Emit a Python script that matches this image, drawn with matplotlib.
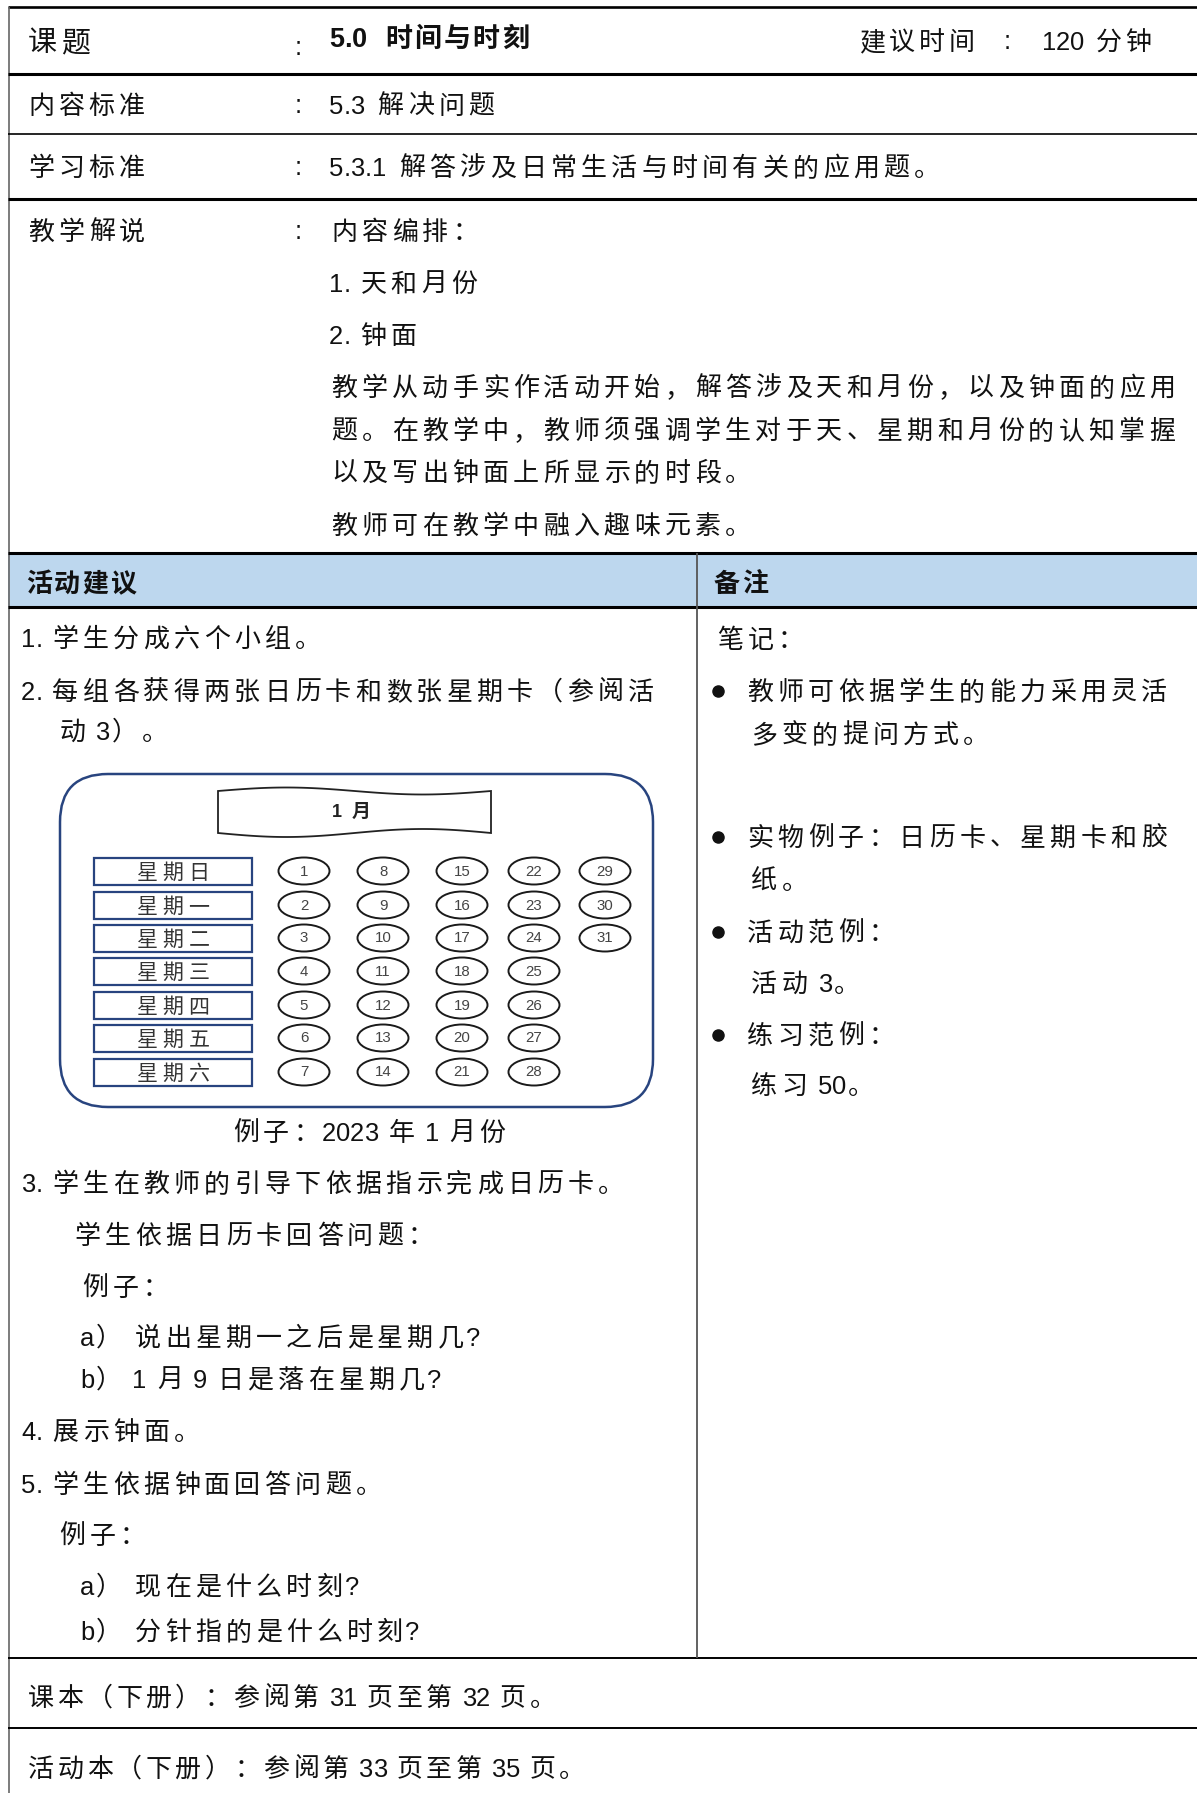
import matplotlib
matplotlib.use("Agg")
import matplotlib.pyplot as plt
import numpy as np
from matplotlib.patches import Rectangle, Ellipse, FancyBboxPatch, Polygon

# ---- 文字内容 ----
field_labels = ["课题", "内容标准", "学习标准", "教学解说"]
field_values = ["5.0  时间与时刻", "5.3 解决问题", "5.3.1 解答涉及日常生活与时间有关的应用题。", "内容编排："]
time_label = "建议时间"
time_value = "120 分钟"
explain_lines = ["1. 天和月份", "2. 钟面",
                 "教学从动手实作活动开始，解答涉及天和月份，以及钟面的应用",
                 "题。在教学中，教师须强调学生对于天、星期和月份的认知掌握",
                 "以及写出钟面上所显示的时段。",
                 "教师可在教学中融入趣味元素。"]
head_left = "活动建议"
head_right = "备注"
left_lines = ["1. 学生分成六个小组。",
              "2. 每组各获得两张日历卡和数张星期卡（参阅活",
              "动 3）。",
              "3. 学生在教师的引导下依据指示完成日历卡。",
              "学生依据日历卡回答问题：",
              "例子：",
              "a） 说出星期一之后是星期几?",
              "b） 1 月 9 日是落在星期几?",
              "4. 展示钟面。",
              "5. 学生依据钟面回答问题。",
              "例子：",
              "a） 现在是什么时刻?",
              "b） 分针指的是什么时刻?"]
caption = "例子：2023 年 1 月份"
notes_title = "笔记："
notes = [["教师可依据学生的能力采用灵活", "多变的提问方式。"],
         ["实物例子：日历卡、星期卡和胶", "纸。"],
         ["活动范例：", "活动 3。"],
         ["练习范例：", "练习 50。"]]
footer_lines = ["课本（下册）：参阅第 31 页至第 32 页。",
                "活动本（下册）：参阅第 33 页至第 35 页。"]

# 日历卡
month_title = "1 月"
weekdays = ["星期日", "星期一", "星期二", "星期三", "星期四", "星期五", "星期六"]
day_columns = [[1, 2, 3, 4, 5, 6, 7],
               [8, 9, 10, 11, 12, 13, 14],
               [15, 16, 17, 18, 19, 20, 21],
               [22, 23, 24, 25, 26, 27, 28],
               [29, 30, 31]]

CJK = ["Noto Sans CJK SC", "DejaVu Sans"]
LAT = ["Liberation Sans", "DejaVu Sans"]
INK = "#111111"
NAVY = "#28447f"

# 半角字符宽度 (em)
LAT_W = {".": 0.278, ":": 0.278, ")": 0.333, "(": 0.333, "?": 0.556}

fig = plt.figure(figsize=(11.97, 17.93), dpi=100)
ax = fig.add_axes([0, 0, 1, 1])
ax.set_xlim(0, 1197)
ax.set_ylim(1793, 0)
ax.axis("off")


def pt(px):
    return px * 0.72


def measure(s, cjk=26, lat=25.5, adv=30.3, space=8):
    w = 0
    for ch in s:
        if ord(ch) > 0x2000:
            w += adv
        elif ch == " ":
            w += space
        else:
            w += LAT_W.get(ch, 0.556) * lat
    return w


def put(x, y, s, cjk=26, lat=25.5, adv=30.3, space=8, bold=False,
        color=INK, ha="left"):
    # 逐字排版, 模仿原文的字距
    if ha == "center":
        x -= measure(s, cjk, lat, adv, space) / 2
    wt = "bold" if bold else "normal"
    base = y + 0.38 * cjk
    for ch in s:
        if ord(ch) > 0x2000:
            ax.text(x + adv / 2, base, ch, ha="center", va="baseline",
                    fontsize=pt(cjk), family=CJK, weight=wt, color=color)
            x += adv
        elif ch == " ":
            x += space
        else:
            ax.text(x, base, ch, ha="left", va="baseline",
                    fontsize=pt(lat), family=LAT, weight=wt, color=color)
            x += LAT_W.get(ch, 0.556) * lat
    return x


# ---- 表格线与底色 ----
ax.add_patch(Rectangle((8, 553), 1189, 54, facecolor="#bdd7ee", edgecolor="none"))
ax.hlines(7, 8, 1197, color="black", lw=1.9)
ax.vlines(8.5, 7, 1793, color="#666666", lw=1.2)
ax.hlines([74, 199, 553, 607], 8, 1197, color="black", lw=2.2)
ax.hlines(134, 8, 1197, color="black", lw=1.2)
ax.hlines([1658, 1728], 8, 1197, color="black", lw=1.4)
ax.vlines(697, 553, 1658, color="#555555", lw=1.3)

# ---- 上半部分 ----
label_y = [40, 104, 166, 230]
for i, lab in enumerate(field_labels):
    if i == 0:
        put(26, label_y[i], lab, cjk=29, adv=33)
        ax.text(295, label_y[i] + 8, ":", fontsize=pt(25.5), family=LAT,
                color=INK, va="center")
        put(329, 37, field_values[i], cjk=27, lat=27, adv=29, space=9, bold=True)
    else:
        put(26, label_y[i], lab)
        ax.text(295, label_y[i] + 2, ":", fontsize=pt(25.5), family=LAT,
                color=INK, va="center")
        put(329, label_y[i], field_values[i], space=11)

put(858, 40, time_label, adv=29.5)
ax.text(1004, 42, ":", fontsize=pt(25.5), family=LAT, color=INK, va="center")
put(1042, 40, time_value, adv=29, space=10)

explain_y = [282, 334, 386, 429, 471, 524]
for yy, line in zip(explain_y, explain_lines):
    put(329, yy, line)

# ---- 表头 ----
put(25, 582, head_left, bold=True, adv=28)
put(713, 582, head_right, bold=True, adv=28)

# ---- 左栏 ----
left_pos = [(21, 637), (21, 690), (57, 730), (21, 1182), (72, 1234), (80, 1286),
            (80, 1336), (80, 1378), (21, 1430), (21, 1483), (57, 1534),
            (80, 1585), (80, 1630)]
for (xx, yy), line in zip(left_pos, left_lines):
    put(xx, yy, line)
put(369, 1131, caption, ha="center")

# ---- 右栏 ----
put(715, 638, notes_title)
note_y = [(690, 733), (836, 879), (931, 982), (1034, 1084)]
for (y1, y2), (l1, l2) in zip(note_y, notes):
    ax.plot(718, y1 + 1, "o", color=INK, markersize=8)
    put(745, y1, l1)
    put(749, y2, l2)

# ---- 页脚 ----
put(26, 1696, footer_lines[0], adv=29.5)
put(26, 1767, footer_lines[1], adv=29.5)

# ---- 日历卡图 ----
ax.add_patch(FancyBboxPatch((60, 774), 593, 333,
                            boxstyle="round,pad=0,rounding_size=48",
                            facecolor="white", edgecolor=NAVY, lw=1.8))

# 波浪形月份标题
xs = np.linspace(218, 491, 80)
t = (xs - 218) / 273
top = 791 - 3.5 * np.sin(2 * np.pi * t)
bottom = 833 + 4 * np.sin(2 * np.pi * t)
pts = np.vstack([np.column_stack([xs, top]), np.column_stack([xs[::-1], bottom[::-1]])])
ax.add_patch(Polygon(pts, closed=True, facecolor="white", edgecolor="#222222", lw=1.3))
put(352, 810, month_title, cjk=19, lat=18, adv=21, space=9, bold=True,
    color="#222222", ha="center")

row_y = [871, 905, 938, 971, 1005, 1038, 1072]
col_x = [304, 383, 462, 534, 605]
for r, wd in enumerate(weekdays):
    ax.add_patch(Rectangle((94, row_y[r] - 13.5), 158, 27, facecolor="white",
                           edgecolor=NAVY, lw=1.6))
    put(173, row_y[r], wd, cjk=21, adv=26, color="#333333", ha="center")

for c, col in enumerate(day_columns):
    for r, d in enumerate(col):
        ax.add_patch(Ellipse((col_x[c], row_y[r]), 51, 27, facecolor="white",
                             edgecolor="#1a1a1a", lw=1.4))
        ax.text(col_x[c], row_y[r] + 0.5, str(d), ha="center", va="center",
                fontsize=pt(15), family=LAT, color="#444444")

plt.savefig("out.png", dpi=100)
